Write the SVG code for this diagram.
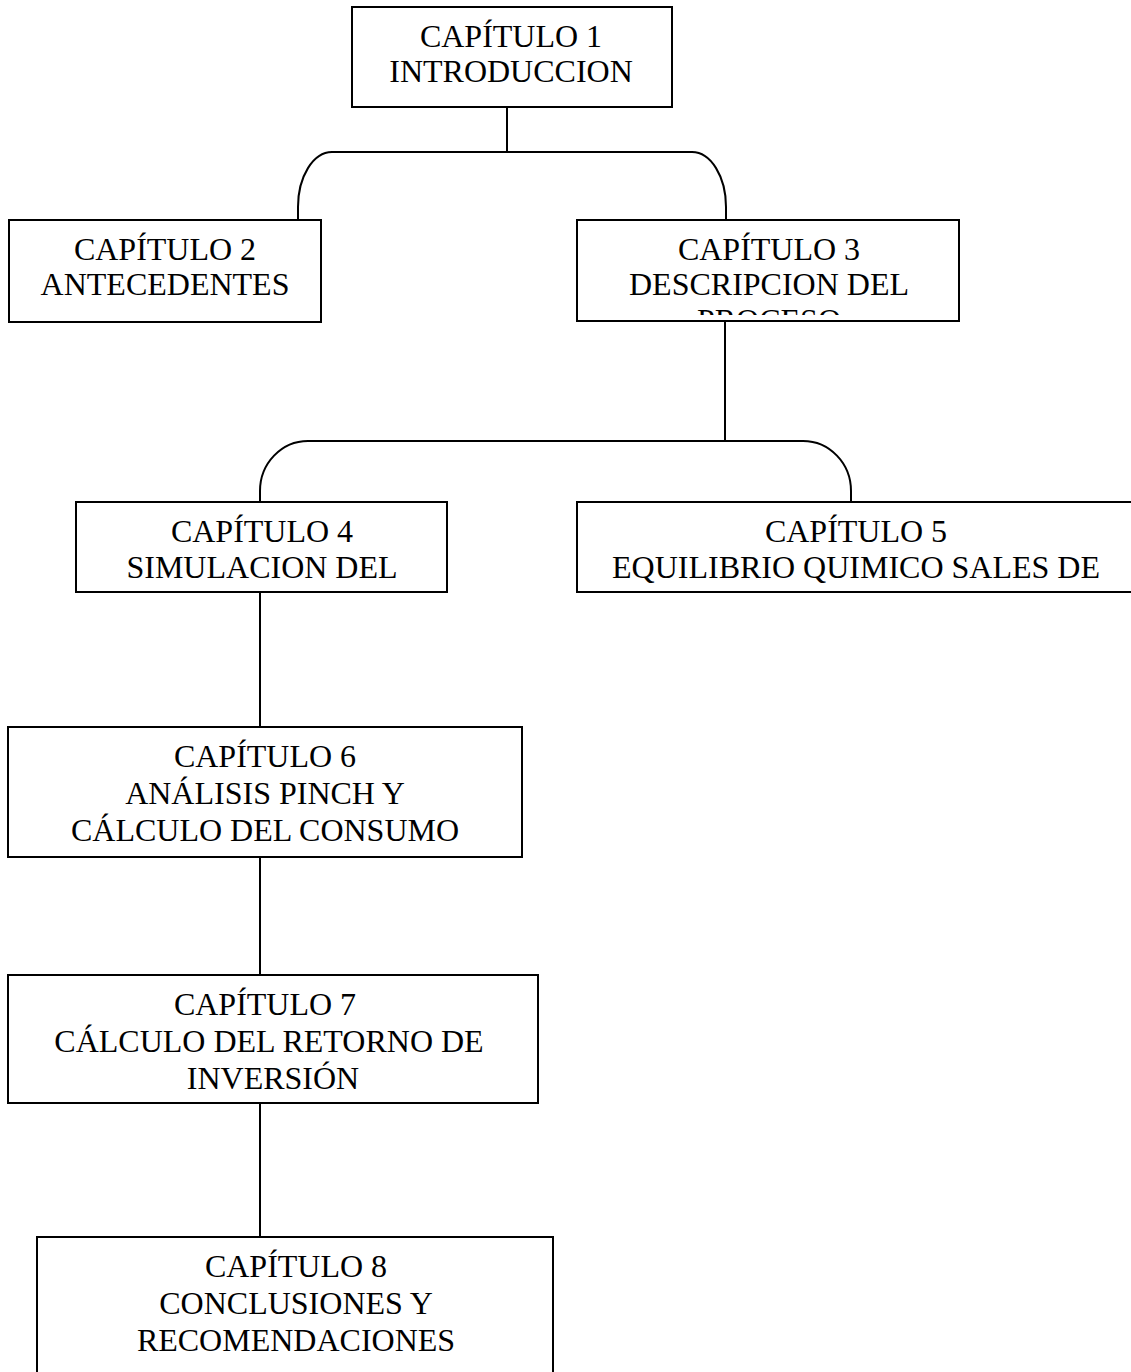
<svg xmlns="http://www.w3.org/2000/svg" width="1131" height="1372" viewBox="0 0 1131 1372">
<defs>
<style>
.box{fill:#fff;stroke:#000;stroke-width:2}
.con{fill:none;stroke:#000;stroke-width:2}
.t{font-family:"Liberation Serif","Times New Roman",serif;font-size:32px;fill:#000;text-anchor:middle}
</style>
<clipPath id="clip3"><rect x="578" y="221" width="380" height="94"/></clipPath>
</defs>
<rect width="1131" height="1372" fill="#fff"/>
<g id="connectors">
<path class="con" d="M507,107 V152"/>
<path class="con" d="M298,220 V207 C298,176.6 313.2,152 332,152 H692 C710.8,152 726,176.6 726,207 V220"/>
<path class="con" d="M725,321 V441"/>
<path class="con" d="M260,502 V491 C260,463.4 281.5,441 308,441 H803 C829.5,441 851,463.4 851,491 V502"/>
<path class="con" d="M260,592 V727"/>
<path class="con" d="M260,857 V975"/>
<path class="con" d="M260,1103 V1237"/>
</g>
<g id="cap1">
<rect class="box" x="352" y="7" width="320" height="100"/>
<text class="t" x="511" y="47">CAPÍTULO 1</text>
<text class="t" x="511" y="82">INTRODUCCION</text>
</g>
<g id="cap2">
<rect class="box" x="9" y="220" width="312" height="102"/>
<text class="t" x="165" y="260">CAPÍTULO 2</text>
<text class="t" x="165" y="295">ANTECEDENTES</text>
</g>
<g id="cap3">
<rect class="box" x="577" y="220" width="382" height="101"/>
<text class="t" x="769" y="260">CAPÍTULO 3</text>
<text class="t" x="769" y="295">DESCRIPCION DEL</text>
<text class="t" x="769" y="331" clip-path="url(#clip3)">PROCESO</text>
</g>
<g id="cap4">
<rect class="box" x="76" y="502" width="371" height="90"/>
<text class="t" x="262" y="542">CAPÍTULO 4</text>
<text class="t" x="262" y="578">SIMULACION DEL</text>
</g>
<g id="cap5">
<rect class="box" x="577" y="502" width="620" height="90"/>
<text class="t" x="856" y="542">CAPÍTULO 5</text>
<text class="t" x="856" y="578">EQUILIBRIO QUIMICO SALES DE</text>
</g>
<g id="cap6">
<rect class="box" x="8" y="727" width="514" height="130"/>
<text class="t" x="265" y="767">CAPÍTULO 6</text>
<text class="t" x="265" y="804">ANÁLISIS PINCH Y</text>
<text class="t" x="265" y="841">CÁLCULO DEL CONSUMO</text>
</g>
<g id="cap7">
<rect class="box" x="8" y="975" width="530" height="128"/>
<text class="t" x="265" y="1015">CAPÍTULO 7</text>
<text class="t" x="269" y="1052">CÁLCULO DEL RETORNO DE</text>
<text class="t" x="273" y="1089">INVERSIÓN</text>
</g>
<g id="cap8">
<rect class="box" x="37" y="1237" width="516" height="200"/>
<text class="t" x="296" y="1277">CAPÍTULO 8</text>
<text class="t" x="296" y="1314">CONCLUSIONES Y</text>
<text class="t" x="296" y="1351">RECOMENDACIONES</text>
</g>
</svg>
